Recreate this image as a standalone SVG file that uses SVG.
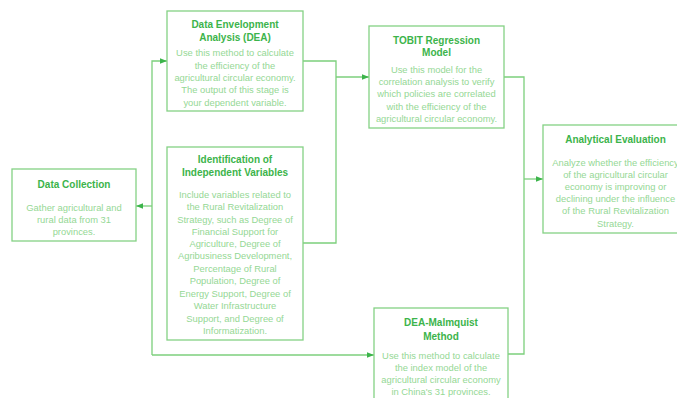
<svg xmlns="http://www.w3.org/2000/svg" width="677" height="398" viewBox="0 0 677 398">
<style>
.box{fill:#fff;stroke:#84d184;stroke-width:1.3}
.t{font-family:"Liberation Sans",Arial,sans-serif;font-weight:bold;font-size:10px;fill:#3cb44b;text-anchor:middle}
.b{font-family:"Liberation Sans",Arial,sans-serif;font-size:9.4px;fill:#95d895;text-anchor:middle}
.c{fill:none;stroke:#7ccf7c;stroke-width:1.3}
</style>
<defs>
<marker id="ah" viewBox="0 0 10 10" refX="10" refY="5" markerWidth="7" markerHeight="7" markerUnits="userSpaceOnUse" orient="auto">
<path d="M0,1 L10,5 L0,9 z" fill="#3cb44b"/>
</marker>
</defs>
<rect width="677" height="398" fill="#fff"/>
<g id="connectors">
<path class="c" d="M152,355 V61 H167" marker-end="url(#ah)"/>
<path class="c" d="M152,355 H374" marker-end="url(#ah)"/>
<path class="c" d="M152,206 H136" marker-end="url(#ah)"/>
<path class="c" d="M303,61 H336 V243 H303"/>
<path class="c" d="M336,77 H369" marker-end="url(#ah)"/>
<path class="c" d="M504,77 H524 V354 H508"/>
<path class="c" d="M524,179 H543" marker-end="url(#ah)"/>
</g>
<g id="dea">
<rect class="box" x="167" y="11" width="136" height="100"/>
<text class="t" x="235" y="28">Data Envelopment</text>
<text class="t" x="235" y="41">Analysis (DEA)</text>
<text class="b" x="235" y="56">Use this method to calculate</text>
<text class="b" x="235" y="68.5">the efficiency of the</text>
<text class="b" x="235" y="81">agricultural circular economy.</text>
<text class="b" x="235" y="93">The output of this stage is</text>
<text class="b" x="235" y="105.5">your dependent variable.</text>
</g>
<g id="tobit">
<rect class="box" x="369" y="26" width="135" height="102"/>
<text class="t" x="436.5" y="43.5">TOBIT Regression</text>
<text class="t" x="436.5" y="56">Model</text>
<text class="b" x="436.5" y="72.5">Use this model for the</text>
<text class="b" x="436.5" y="85">correlation analysis to verify</text>
<text class="b" x="436.5" y="97">which policies are correlated</text>
<text class="b" x="436.5" y="109.5">with the efficiency of the</text>
<text class="b" x="436.5" y="121.5">agricultural circular economy.</text>
</g>
<g id="analytical">
<rect class="box" x="543" y="125" width="146" height="108"/>
<text class="t" x="615.5" y="143">Analytical Evaluation</text>
<text class="b" x="615.5" y="165.5">Analyze whether the efficiency</text>
<text class="b" x="615.5" y="177.5">of the agricultural circular</text>
<text class="b" x="615.5" y="189.5">economy is improving or</text>
<text class="b" x="615.5" y="201.5">declining under the influence</text>
<text class="b" x="615.5" y="214">of the Rural Revitalization</text>
<text class="b" x="615.5" y="226.5">Strategy.</text>
</g>
<g id="datacollection">
<rect class="box" x="12" y="169" width="124" height="72"/>
<text class="t" x="74" y="188">Data Collection</text>
<text class="b" x="74" y="210.5">Gather agricultural and</text>
<text class="b" x="74" y="222.5">rural data from 31</text>
<text class="b" x="74" y="234.5">provinces.</text>
</g>
<g id="identification">
<rect class="box" x="167" y="147" width="136" height="193"/>
<text class="t" x="235" y="162.5">Identification of</text>
<text class="t" x="235" y="175.5">Independent Variables</text>
<text class="b" x="235" y="197.5">Include variables related to</text>
<text class="b" x="235" y="210">the Rural Revitalization</text>
<text class="b" x="235" y="222.5">Strategy, such as Degree of</text>
<text class="b" x="235" y="234.5">Financial Support for</text>
<text class="b" x="235" y="247">Agriculture, Degree of</text>
<text class="b" x="235" y="259">Agribusiness Development,</text>
<text class="b" x="235" y="271.5">Percentage of Rural</text>
<text class="b" x="235" y="284">Population, Degree of</text>
<text class="b" x="235" y="296.5">Energy Support, Degree of</text>
<text class="b" x="235" y="309">Water Infrastructure</text>
<text class="b" x="235" y="321.5">Support, and Degree of</text>
<text class="b" x="235" y="333.5">Informatization.</text>
</g>
<g id="malmquist">
<rect class="box" x="374" y="308" width="134" height="100"/>
<text class="t" x="441" y="326">DEA-Malmquist</text>
<text class="t" x="441" y="339.5">Method</text>
<text class="b" x="441" y="358.5">Use this method to calculate</text>
<text class="b" x="441" y="371">the index model of the</text>
<text class="b" x="441" y="383">agricultural circular economy</text>
<text class="b" x="441" y="395">in China's 31 provinces.</text>
</g>
</svg>
